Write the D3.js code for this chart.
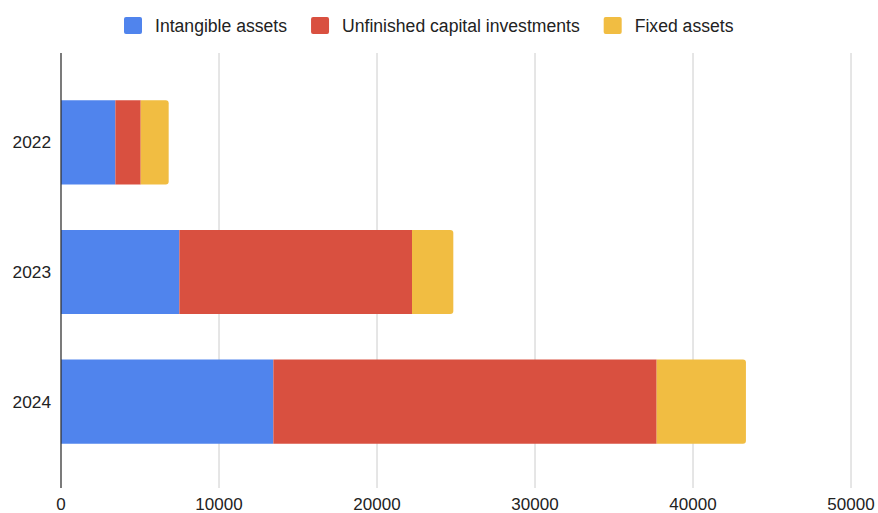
<!DOCTYPE html>
<html>
<head>
<meta charset="utf-8">
<script src="https://cdn.jsdelivr.net/npm/d3@7"></script>
<style>
  html, body { margin: 0; padding: 0; background: #fff; }
  svg text { font-family: "Liberation Sans", Arial, Helvetica, sans-serif; fill: #222; }
</style>
</head>
<body>
<svg id="chart" width="878" height="513"></svg>
<script>
// Years shown on the vertical axis
const years = ["2022", "2023", "2024"];
// Stacked series, one value per year
const intangible = [3440, 7490, 13440];
const unfinished = [1605, 14725, 24260];
const fixedAssets = [1770, 2615, 5650];
const seriesNames = ["Intangible assets", "Unfinished capital investments", "Fixed assets"];
const seriesColors = ["#5084ED", "#D95040", "#F1BD42"];
const xTicks = [0, 10000, 20000, 30000, 40000, 50000];

const svg = d3.select("#chart");
const m = { left: 61, right: 27, top: 53, bottom: 25 };
const W = 878, H = 513;

const x = d3.scaleLinear().domain([0, 50000]).range([m.left, W - m.right]);
const y = d3.scaleBand().domain(years).range([55, 489])
  .paddingInner(0.35).paddingOuter(0.35);

// Vertical gridlines
svg.append("g").selectAll("line").data(xTicks.filter(d => d > 0)).join("line")
  .attr("x1", d => x(d)).attr("x2", d => x(d))
  .attr("y1", m.top).attr("y2", H - m.bottom)
  .attr("stroke", "#cccccc").attr("stroke-width", 1);

// Stack the series
const rows = years.map((yr, i) => ({ year: yr, a: intangible[i], b: unfinished[i], c: fixedAssets[i] }));
const stack = d3.stack().keys(["a", "b", "c"])(rows);

// Rectangle with rounded right corners for the end segment
function roundedRight(x0, y0, w, h, r) {
  r = Math.min(r, w);
  return `M${x0},${y0}H${x0 + w - r}Q${x0 + w},${y0} ${x0 + w},${y0 + r}` +
         `V${y0 + h - r}Q${x0 + w},${y0 + h} ${x0 + w - r},${y0 + h}H${x0}Z`;
}

stack.forEach((layer, li) => {
  svg.append("g").selectAll("path").data(layer).join("path")
    .attr("fill", seriesColors[li])
    .attr("d", d => {
      const x0 = x(d[0]), w = x(d[1]) - x(d[0]);
      const y0 = y(d.data.year), h = y.bandwidth();
      return li === stack.length - 1 ? roundedRight(x0, y0, w, h, 3)
                                     : `M${x0},${y0}h${w}v${h}h${-w}Z`;
    });
});

// Baseline axis
svg.append("line")
  .attr("x1", x(0)).attr("x2", x(0))
  .attr("y1", m.top).attr("y2", H - m.bottom)
  .attr("stroke", "#333").attr("stroke-width", 1.3);

// X tick labels
svg.append("g").selectAll("text").data(xTicks).join("text")
  .attr("x", d => x(d)).attr("y", 510)
  .attr("text-anchor", "middle").attr("font-size", "17px")
  .text(d => d);

// Y tick labels
svg.append("g").selectAll("text").data(years).join("text")
  .attr("x", 51).attr("y", d => y(d) + y.bandwidth() / 2 + 6)
  .attr("text-anchor", "end").attr("font-size", "17.3px")
  .text(d => d);

// Legend
const legend = svg.append("g");
let lx = 124;
seriesNames.forEach((name, i) => {
  legend.append("rect").attr("x", lx).attr("y", 17).attr("width", 18).attr("height", 17)
    .attr("rx", 2).attr("fill", seriesColors[i]);
  const t = legend.append("text").attr("x", lx + 31).attr("y", 32)
    .attr("font-size", "17.6px").text(name);
  lx += 31 + t.node().getComputedTextLength() + 24;
});
</script>
</body>
</html>
